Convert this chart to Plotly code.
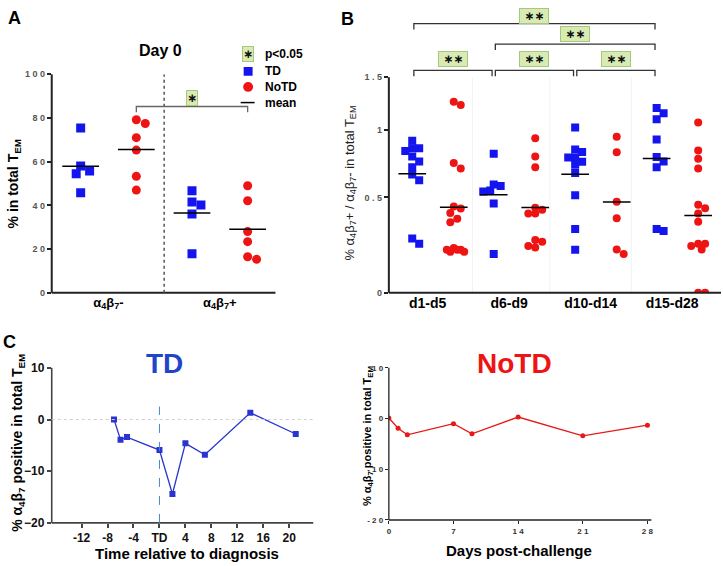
import numpy as np
import plotly.graph_objects as go

W, H = 723, 566

# ---- data ----
# A: day 0, % in total TEM
a_cats = ["α<sub>4</sub>β<sub>7</sub>-", "α<sub>4</sub>β<sub>7</sub>+"]
a_td_neg = [75.4, 58.0, 55.7, 54.5, 45.8]
a_notd_neg = [79.2, 77.5, 71.0, 65.3, 53.3, 47.0]
a_td_pos = [46.7, 41.5, 40.2, 36.0, 17.9]
a_notd_pos = [49.0, 42.1, 28.0, 23.4, 16.5, 15.3]

# B: ratio a4b7+ / a4b7- by time window
b_groups = ["d1-d5", "d6-d9", "d10-d14", "d15-d28"]
b_td = [
    [0.908, 0.848, 0.848, 0.827, 0.785, 0.748, 0.705, 0.654, 0.614, 0.26, 0.232],
    [0.805, 0.585, 0.574, 0.544, 0.538, 0.461, 0.179],
    [1.018, 0.838, 0.82, 0.778, 0.778, 0.746, 0.724, 0.664, 0.514, 0.311, 0.2],
    [1.193, 1.146, 1.09, 0.919, 0.781, 0.748, 0.705, 0.311, 0.3],
]
b_notd = [
    [1.252, 1.221, 0.736, 0.696, 0.443, 0.431, 0.403, 0.37, 0.35,
     0.21, 0.2, 0.2, 0.2, 0.19, 0.19],
    [0.929, 0.785, 0.705, 0.435, 0.423, 0.401, 0.401, 0.251, 0.242, 0.22, 0.212],
    [0.94, 0.817, 0.473, 0.373, 0.202, 0.179],
    [1.062, 0.83, 0.768, 0.696, 0.453, 0.433, 0.401, 0.352, 0.232, 0.232,
     0.22, 0.202, 0.0, 0.0],
]
# significant pairs (group i vs group j) and bracket row (0 = lowest)
b_sig = [(0, 1, 0), (1, 2, 0), (2, 3, 0), (1, 3, 1), (0, 3, 2)]

# C: change in % a4b7 positive
td_days = [-7, -6, -5, 0, 2, 4, 7, 14, 21]
td_change = [0.0, -3.9, -3.4, -5.9, -14.4, -4.6, -6.8, 1.3, -2.8]
td_ticks = [-12, -8, -4, 0, 4, 8, 12, 16, 20]
notd_days = [0, 1, 2, 7, 9, 14, 21, 28]
notd_change = [0.1, -1.9, -3.2, -1.0, -3.0, 0.3, -3.4, -1.3]

BLUE = "#1414ee"
RED = "#ee1414"
FONT = "Liberation Sans, Arial, sans-serif"


def spaced(s):
    return " ".join(str(s))


def swarm(vals, px_y, step, min_d, cap):
    """simple beeswarm: horizontal pixel offsets, limited to +-cap"""
    ys = [v * px_y for v in vals]
    placed, offs = [], [0.0] * len(vals)
    cands = [0.0] + [s * j * step for j in range(1, 30) for s in (1, -1) if j * step <= cap]
    for i in np.argsort(-np.asarray(ys), kind="stable"):
        best, best_d = 0.0, -1
        for c in cands:
            d = min([((c - ox) ** 2 + (ys[i] - oy) ** 2) ** 0.5 for ox, oy in placed] or [1e9])
            if d >= min_d:
                best = c
                break
            if d > best_d:
                best, best_d = c, d
        offs[i] = best
        placed.append((best, ys[i]))
    return offs


fig = go.Figure()

# ---- panel A ----
ax_dom = [50 / W, 275 / W]
ay_dom = [1 - 293 / H, 1 - 69 / H]
ax_rng = [-0.52, 3.5]
apx_x = (ax_dom[1] - ax_dom[0]) * W / (ax_rng[1] - ax_rng[0])
apx_y = (ay_dom[1] - ay_dom[0]) * H / 100


def a_points(vals, pos):
    offs = swarm(vals, apx_y, 4.5, 8.5, 10)
    return [pos + o / apx_x for o in offs]


td_x = a_points(a_td_neg, 0) + a_points(a_td_pos, 2)
notd_x = a_points(a_notd_neg, 1) + a_points(a_notd_pos, 3)
fig.add_trace(go.Scatter(x=td_x, y=a_td_neg + a_td_pos, mode="markers",
                         marker=dict(symbol="square", size=9, color=BLUE),
                         xaxis="x", yaxis="y"))
fig.add_trace(go.Scatter(x=notd_x, y=a_notd_neg + a_notd_pos, mode="markers",
                         marker=dict(symbol="circle", size=9, color=RED),
                         xaxis="x", yaxis="y"))
mx, my = [], []
for pos, vals in enumerate([a_td_neg, a_notd_neg, a_td_pos, a_notd_pos]):
    m = float(np.mean(vals))
    mx += [pos - 0.33, pos + 0.33, None]
    my += [m, m, None]
fig.add_trace(go.Scatter(x=mx, y=my, mode="lines",
                         line=dict(color="black", width=1.5), xaxis="x", yaxis="y"))

# ---- panel B (log(1+x) scale) ----
bx_dom = [389 / W, 1.0]
by_dom = [1 - 293 / H, 1 - 72 / H]
bx_rng = [-0.477, 3.6]
by_rng = [0, np.log10(2.5)]
bpx_x = (bx_dom[1] - bx_dom[0]) * W / (bx_rng[1] - bx_rng[0])
bpx_y = (by_dom[1] - by_dom[0]) * H / (by_rng[1] - by_rng[0])
TD_OFF, NOTD_OFF = -0.19, 0.32

for series, off, color, sym in [(b_td, TD_OFF, BLUE, "square"), (b_notd, NOTD_OFF, RED, "circle")]:
    xs, ys, mx, my = [], [], [], []
    for g, vals in enumerate(series):
        t = list(np.log10(1 + np.asarray(vals)))
        offs = swarm(t, bpx_y, 3.5, 7, 11)
        xs += [g + off + o / bpx_x for o in offs]
        ys += t
        m = float(np.mean(t))
        mx += [g + off - 0.17, g + off + 0.17, None]
        my += [m, m, None]
    fig.add_trace(go.Scatter(x=xs, y=ys, mode="markers",
                             marker=dict(symbol=sym, size=8, color=color),
                             xaxis="x2", yaxis="y2"))
    fig.add_trace(go.Scatter(x=mx, y=my, mode="lines",
                             line=dict(color="black", width=1.5), xaxis="x2", yaxis="y2"))

# ---- panel C ----
c3_dom = ([50 / W, 313 / W], [1 - 529 / H, 1 - 370 / H])
c4_dom = ([389 / W, 653 / W], [1 - 526 / H, 1 - 370 / H])
fig.add_trace(go.Scatter(x=td_days, y=td_change, mode="lines+markers",
                         line=dict(color="#2a35d0", width=1.3),
                         marker=dict(symbol="square", size=6, color="#2a35d0"),
                         xaxis="x3", yaxis="y3"))
fig.add_trace(go.Scatter(x=notd_days, y=notd_change, mode="lines+markers",
                         line=dict(color="#e81818", width=1.3),
                         marker=dict(symbol="circle", size=5, color="#e81818"),
                         xaxis="x4", yaxis="y4"))


def axis(**kw):
    d = dict(showgrid=False, zeroline=False, showline=False,
             ticks="outside", ticklen=4, tickcolor="#222", tickwidth=1.5)
    d.update(kw)
    return d


small_tick = dict(family=FONT, size=9, color="#555", weight="bold")
c_tick = dict(family=FONT, size=12, weight="bold", color="#111")
tiny_tick = dict(family=FONT, size=8, color="#333", weight="bold")

fig.update_layout(
    width=W, height=H, margin=dict(l=0, r=0, t=0, b=0),
    plot_bgcolor="white", paper_bgcolor="white", showlegend=False,
    font=dict(family=FONT, color="black"),
    xaxis=axis(domain=ax_dom, range=ax_rng, tickvals=[0.5, 2.5], ticktext=a_cats,
               anchor="y", ticks="", tickfont=dict(family=FONT, size=13, weight="bold")),
    yaxis=axis(domain=ay_dom, range=[0, 100], tickvals=[0, 20, 40, 60, 80, 100],
               ticktext=[spaced(v) for v in [0, 20, 40, 60, 80, 100]],
               anchor="x", tickfont=small_tick),
    xaxis2=axis(domain=bx_dom, range=bx_rng, tickvals=[0, 1, 2, 3], ticktext=b_groups,
                anchor="y2", ticks="", tickfont=dict(family=FONT, size=14, weight="bold")),
    yaxis2=axis(domain=by_dom, range=by_rng,
                tickvals=list(np.log10(1 + np.array([0, 0.5, 1, 1.5]))),
                ticktext=["0", "0 . 5", "1", "1 . 5"], anchor="x2", tickfont=small_tick),
    xaxis3=axis(domain=c3_dom[0], range=[-16.6, 23.7], tickvals=td_ticks,
                ticktext=["TD" if t == 0 else str(t) for t in td_ticks],
                anchor="y3", tickfont=c_tick, tickcolor="#444"),
    yaxis3=axis(domain=c3_dom[1], range=[-20, 10], tickvals=[-20, -10, 0, 10],
                anchor="x3", tickfont=c_tick, tickcolor="#444"),
    xaxis4=axis(domain=c4_dom[0], range=[0, 28.43], tickvals=[0, 7, 14, 21, 28],
                ticktext=[spaced(v) for v in [0, 7, 14, 21, 28]],
                anchor="y4", tickfont=tiny_tick, ticklen=3, tickwidth=1),
    yaxis4=axis(domain=c4_dom[1], range=[-20, 10], tickvals=[-20, -10, 0, 10],
                ticktext=["- 2 0", "- 1 0", "0", "1 0"],
                anchor="x4", tickfont=tiny_tick, ticklen=3, tickwidth=1),
)

# axis lines (paper coords so they are not clipped)
for (xd, yd), col, lw in [((ax_dom, ay_dom), "#222", 2), ((bx_dom, by_dom), "#222", 2),
                          (c3_dom, "#444", 1.6), (c4_dom, "#222", 1.3)]:
    fig.add_shape(type="line", xref="paper", yref="paper", x0=xd[0], x1=xd[0],
                  y0=yd[0], y1=yd[1], line=dict(color=col, width=lw))
    fig.add_shape(type="line", xref="paper", yref="paper", x0=xd[0], x1=xd[1],
                  y0=yd[0], y1=yd[0], line=dict(color=col, width=lw))

# reference lines
fig.add_shape(type="line", xref="x", yref="y", x0=1.5, x1=1.5, y0=0, y1=100,
              line=dict(color="#555", width=1.5, dash="dot"))
fig.add_shape(type="line", xref="x3 domain", yref="y3", x0=0, x1=1, y0=0, y1=0,
              line=dict(color="#cfcfcf", width=1, dash="dot"))
fig.add_shape(type="line", xref="x3", yref="y3", x0=0, x1=0, y0=-20, y1=2.5,
              line=dict(color="#4a86c8", width=1, dash="dash"))
for g in [0.55, 1.5, 2.5]:
    fig.add_shape(type="line", xref="x2", yref="y2", x0=g, x1=g, y0=0, y1=by_rng[1],
                  line=dict(color="#f3f3f3", width=1), layer="below")


def star(x, y, text, xref="paper"):
    fig.add_annotation(x=x, y=y, xref=xref, yref="paper", text="<b>%s</b>" % text,
                       xanchor="center", yanchor="middle", showarrow=False,
                       font=dict(family="DejaVu Sans", size=12, color="#111"),
                       bgcolor="#d8ebb4", bordercolor="#a6c878", borderwidth=1, borderpad=0)


def bracket(x0, x1, y, xref, color="#444"):
    yt, yb = 1 - y / H, 1 - (y + 6) / H
    fig.add_shape(type="path", xref=xref, yref="paper",
                  path="M %f,%f L %f,%f L %f,%f L %f,%f" % (x0, yb, x0, yt, x1, yt, x1, yb),
                  line=dict(color=color, width=1.3))


def text(x, y, s, size, angle=0, color="black", bold=True, anchor="center"):
    fig.add_annotation(x=x / W, y=1 - y / H, xref="paper", yref="paper",
                       text="<b>%s</b>" % s if bold else s, showarrow=False, textangle=angle,
                       xanchor=anchor, yanchor="middle",
                       font=dict(family=FONT, size=size, color=color))


# panel A significance
bracket(1, 3, 102, "x", "#666")
star(2, 1 - 93 / H, "∗", xref="x")

# panel B significance
row_y = [65, 38, 17]
row_gap = [12, 10, 8]
for i, j, row in b_sig:
    x0, x1 = i + TD_OFF, j + TD_OFF
    bracket(x0 + 0.02, x1 - 0.02, row_y[row], "x2", "#333")
    star((x0 + x1) / 2, 1 - (row_y[row] - row_gap[row]) / H, " ∗∗ ", xref="x2")

# legend (panel A)
star(247 / W, 1 - 48 / H, "∗")
fig.add_shape(type="rect", xref="paper", yref="paper", x0=243 / W, x1=252 / W,
              y0=1 - 70.5 / H, y1=1 - 61.5 / H, fillcolor=BLUE, line_width=0)
fig.add_shape(type="circle", xref="paper", yref="paper", x0=242.5 / W, x1=252.5 / W,
              y0=1 - 87 / H, y1=1 - 77 / H, fillcolor=RED, line_width=0)
fig.add_shape(type="line", xref="paper", yref="paper", x0=240 / W, x1=254 / W,
              y0=1 - 98 / H, y1=1 - 98 / H, line=dict(color="black", width=1.5))
for yy, s in [(48, "p<0.05"), (66, "TD"), (82, "NoTD"), (98, "mean")]:
    text(262, yy, s, 12, anchor="left")

text(13, 11, "A", 18)
text(347, 12, "B", 18)
text(8, 344, "C", 18)
text(159, 45, "Day 0", 16)
text(163, 366, "TD", 28, color="#1f45c8")
text(515, 366, "NoTD", 28, color="#ee1414")
text(12, 181, "% in total T<sub>EM</sub>", 14, angle=-90)
text(350, 181, "% α<sub>4</sub>β<sub>7</sub>+ / α<sub>4</sub>β<sub>7</sub>- in total T<sub>EM</sub>",
     13, angle=-90, color="#222", bold=False)
text(16, 447, "% α<sub>4</sub>β<sub>7</sub> positive in total T<sub>EM</sub>", 14, angle=-90)
text(368, 440, "% α<sub>4</sub>β<sub>7</sub> positive in total T<sub>EM</sub>", 11, angle=-90)
text(186, 560, "Time relative to diagnosis", 15)
text(520, 557, "Days post-challenge", 15)

fig.write_html("out.html", config={"displayModeBar": False},
               post_script="document.body.style.margin='0';")
